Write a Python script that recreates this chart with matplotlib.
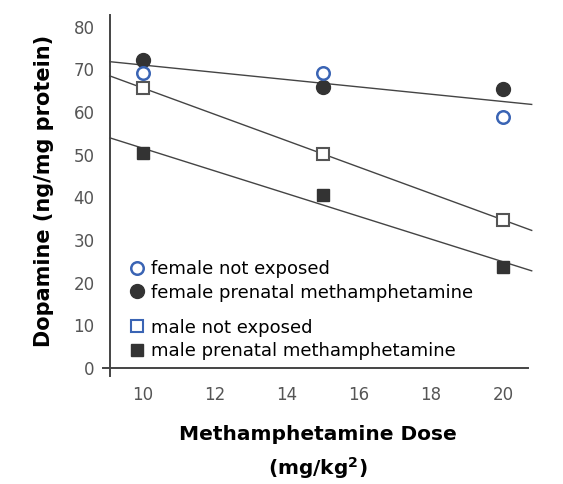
import numpy as np
import matplotlib.pyplot as plt
from matplotlib.lines import Line2D

# doses (mg/kg^2)
doses = [10, 15, 20]

# dopamine (ng/mg protein)
female_not_exposed = [69.1, 69.1, 58.8]
female_prenatal = [72.1, 65.8, 65.3]
male_not_exposed = [65.6, 50.1, 34.7]
male_prenatal = [50.3, 40.5, 23.7]

y_ticks = [0, 10, 20, 30, 40, 50, 60, 70, 80]
x_ticks = [10, 12, 14, 16, 18, 20]

blue = '#3a64b4'
dark = '#333333'
gray_txt = '#555555'

fig = plt.figure(figsize=(5.63, 4.84), dpi=100)
ax = fig.add_axes([0.195, 0.24, 0.743, 0.729])
xmin, xmax = 9.08, 20.7
ax.set_xlim(xmin, xmax)
ax.set_ylim(0, 82.7)

# regression lines (females pooled, males separately)
xl = np.array([xmin, 20.8])
female_all = np.concatenate([female_not_exposed, female_prenatal])
for xs, ys in [(doses * 2, female_all), (doses, male_not_exposed), (doses, male_prenatal)]:
    k, b = np.polyfit(xs, ys, 1)
    ax.plot(xl, k * xl + b, color='#444444', lw=1.0, clip_on=False, zorder=1)

ax.plot(doses, female_not_exposed, 'o', ms=9, mfc='white', mec=blue, mew=1.8, zorder=3)
ax.plot(doses, female_prenatal, 'o', ms=10, color=dark, zorder=2)
ax.plot(doses, male_not_exposed, 's', ms=9, mfc='white', mec='#555555', mew=1.5, zorder=3)
ax.plot(doses, male_prenatal, 's', ms=9, color=dark, zorder=3)

ax.set_xticks(x_ticks)
ax.set_yticks(y_ticks)
ax.tick_params(length=0, labelsize=12, labelcolor=gray_txt)
ax.tick_params(axis='y', pad=11)
ax.tick_params(axis='x', pad=13)
for s in ['top', 'right']:
    ax.spines[s].set_visible(False)
for s in ['left', 'bottom']:
    ax.spines[s].set_color('#444444')
    ax.spines[s].set_linewidth(1.4)
ax.spines['bottom'].set_bounds(8.88, xmax)
ax.spines['left'].set_bounds(-2.0, 82.7)

ax.set_ylabel('Dopamine (ng/mg protein)', fontsize=15, fontweight='bold', labelpad=14)
fig.text(0.565, 1 - 435 / 484, 'Methamphetamine Dose', fontsize=14.5,
         fontweight='bold', ha='center', va='center')
fig.text(0.565, 1 - 468 / 484, r'(mg/kg$^\mathbf{2}$)', fontsize=14.5,
         fontweight='bold', ha='center', va='center')

leg_kw = dict(frameon=False, fontsize=13, handlelength=0.8, handletextpad=0.4,
              labelspacing=0.3, borderaxespad=0, loc='upper left')
h1 = [Line2D([], [], ls='', marker='o', ms=9, mfc='white', mec=blue, mew=1.8),
      Line2D([], [], ls='', marker='o', ms=10, color=dark)]
leg1 = ax.legend(h1, ['female not exposed', 'female prenatal methamphetamine'],
                 bbox_to_anchor=(0.03, 0.325), **leg_kw)
ax.add_artist(leg1)
h2 = [Line2D([], [], ls='', marker='s', ms=9, mfc='white', mec=blue, mew=1.5),
      Line2D([], [], ls='', marker='s', ms=9, color=dark)]
ax.legend(h2, ['male not exposed', 'male prenatal methamphetamine'],
          bbox_to_anchor=(0.03, 0.16), **leg_kw)

fig.savefig('out.png', dpi=100)
